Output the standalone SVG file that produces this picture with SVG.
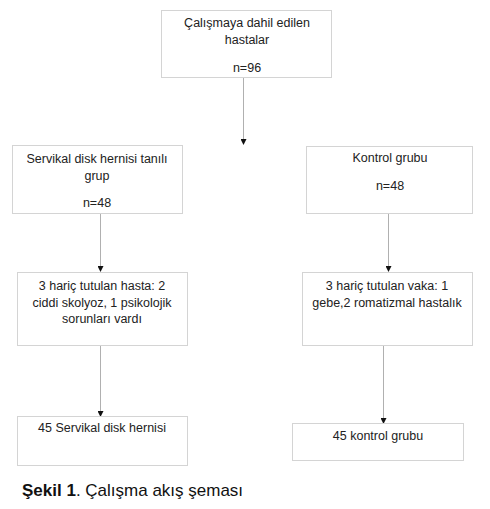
<svg xmlns="http://www.w3.org/2000/svg" width="490" height="509" viewBox="0 0 490 509">
<style>
.box{fill:#fff;stroke:#d4d4d4;stroke-width:1}
.t{font-family:"Liberation Sans",Arial,sans-serif;font-size:12.5px;fill:#222;text-anchor:middle}
.c{stroke:#b0b0b0;stroke-width:1;fill:none;marker-end:url(#ah)}
.cap{font-family:"Liberation Sans",Arial,sans-serif;font-size:17px;fill:#111}
</style>
<defs>
<marker id="ah" markerWidth="6" markerHeight="6" refX="5" refY="3" orient="auto" markerUnits="userSpaceOnUse">
<path d="M0,0 L6,3 L0,6 z" fill="#111"/>
</marker>
</defs>
<rect width="490" height="509" fill="#fff"/>
<g id="connectors">
<line class="c" x1="243.5" y1="77" x2="243.5" y2="144"/>
<line class="c" x1="100.5" y1="213" x2="100.5" y2="271"/>
<line class="c" x1="388.5" y1="213" x2="388.5" y2="271"/>
<line class="c" x1="100.5" y1="345" x2="100.5" y2="416"/>
<line class="c" x1="383.5" y1="345" x2="383.5" y2="423"/>
</g>
<g id="n0">
<rect class="box" x="161.5" y="10.5" width="170" height="67"/>
<text class="t" x="247" y="27">Çalışmaya dahil edilen</text>
<text class="t" x="247" y="44">hastalar</text>
<text class="t" x="247" y="72">n=96</text>
</g>
<g id="n1">
<rect class="box" x="12.5" y="145.5" width="170" height="68"/>
<text class="t" x="97" y="163">Servikal disk hernisi tanılı</text>
<text class="t" x="97" y="180">grup</text>
<text class="t" x="97" y="207">n=48</text>
</g>
<g id="n2">
<rect class="box" x="306.5" y="146.5" width="166" height="67"/>
<text class="t" x="390" y="162">Kontrol grubu</text>
<text class="t" x="390" y="190">n=48</text>
</g>
<g id="n3">
<rect class="box" x="17.5" y="272.5" width="170" height="73"/>
<text class="t" x="102" y="290">3 hariç tutulan hasta: 2</text>
<text class="t" x="102" y="307">ciddi skolyoz, 1 psikolojik</text>
<text class="t" x="102" y="323">sorunları vardı</text>
</g>
<g id="n4">
<rect class="box" x="302.5" y="272.5" width="170" height="73"/>
<text class="t" x="387" y="290">3 hariç tutulan vaka: 1</text>
<text class="t" x="387" y="307">gebe,2 romatizmal hastalık</text>
</g>
<g id="n5">
<rect class="box" x="17.5" y="416.5" width="170" height="49"/>
<text class="t" x="102" y="432">45 Servikal disk hernisi</text>
</g>
<g id="n6">
<rect class="box" x="292.5" y="423.5" width="171" height="37"/>
<text class="t" x="378" y="440">45 kontrol grubu</text>
</g>
<text class="cap" x="22" y="496"><tspan font-weight="bold">Şekil 1</tspan>. Çalışma akış şeması</text>
</svg>
